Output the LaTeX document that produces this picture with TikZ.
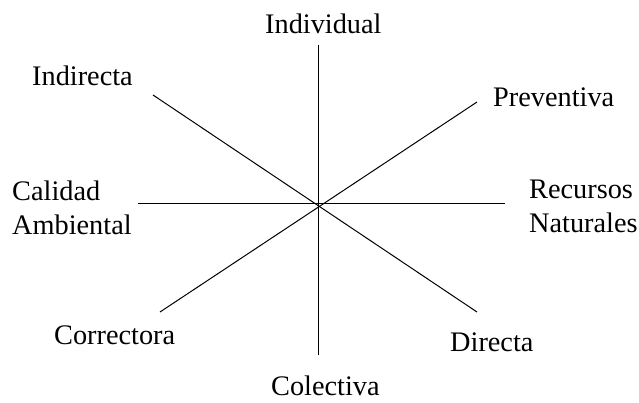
\documentclass[tikz,border=0pt]{standalone}
\usepackage{fontspec}
\setmainfont{Liberation Serif}
\begin{document}
\begin{tikzpicture}[x=1pt,y=-1pt,
  axis/.style={draw=black,line width=1pt},
  label/.style={inner sep=0pt,anchor=base west,font=\fontsize{28.3}{34}\selectfont}]
\useasboundingbox (0,0) rectangle (639,402);

% axis end points
\coordinate (c)  at (318,204);
\coordinate (n)  at (318,45);
\coordinate (s)  at (318,355);
\coordinate (w)  at (138,203);
\coordinate (e)  at (505,203);
\coordinate (nw) at (153,95);
\coordinate (se) at (477,312);
\coordinate (ne) at (477,102);
\coordinate (sw) at (160,312);

\draw[axis] (n) -- (s);
\draw[axis] (w) -- (e);
\draw[axis] (nw) -- (se);
\draw[axis] (ne) -- (sw);

% labels
\node[label] (individual) at (265,33) {Individual};
\node[label] (indirecta)  at (32,85)  {Indirecta};
\node[label] (preventiva) at (493,106) {Preventiva};
\node[label] (calidad)    at (12,200) {Calidad};
\node[label] (ambiental)  at (12,234) {Ambiental};
\node[label] (recursos)   at (529,198) {Recursos};
\node[label] (naturales)  at (529,232) {Naturales};
\node[label] (correctora) at (54,344) {Correctora};
\node[label] (directa)    at (450,351) {Directa};
\node[label] (colectiva)  at (271,395) {Colectiva};
\end{tikzpicture}
\end{document}
